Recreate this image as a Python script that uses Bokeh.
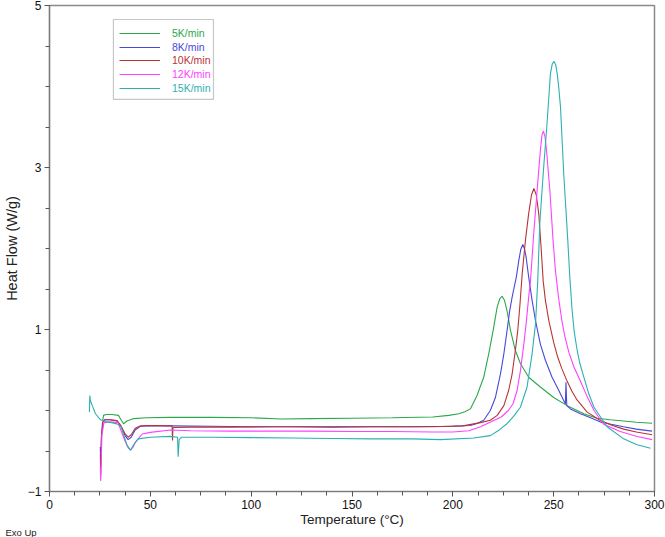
from bokeh.plotting import figure
from bokeh.models import Range1d, FixedTicker, Legend, LegendItem, Title, BoxAnnotation
from bokeh.embed import file_html
from bokeh.resources import INLINE

# ---------------- data ----------------
rates = ["5K/min", "8K/min", "10K/min", "12K/min", "15K/min"]
colors = ["#2ba84c", "#4848dc", "#b83434", "#ff40ff", "#2cb0b0"]

t_5k = [26.4, 26.8, 28, 31, 34.2, 35.6, 36.8, 38.4, 41.8, 48, 60, 80, 100, 115, 130,
        150, 170, 190, 198, 203, 206, 208.7, 212, 215.3, 217.8, 220, 222, 223.3, 224.4,
        225.6, 226.9, 228.6, 231, 233.5, 237.6, 243.4, 250, 256.7, 265, 271.5, 278,
        284.7, 291, 298.8]
hf_5k = [-0.12, -0.06, -0.05, -0.05, -0.06, -0.12, -0.165, -0.13, -0.10, -0.09, -0.085,
         -0.085, -0.09, -0.105, -0.10, -0.095, -0.09, -0.08, -0.06, -0.04, -0.015, 0.02,
         0.185, 0.41, 0.70, 0.99, 1.28, 1.38, 1.41, 1.36, 1.23, 0.99, 0.74, 0.58, 0.41,
         0.29, 0.16, 0.06, -0.04, -0.095, -0.115, -0.13, -0.145, -0.157]

t_8k = [25.2, 25.4, 25.7, 26.3, 27.2, 30, 33.5, 35.5, 37.5, 39, 40.5, 42.5, 45, 50, 60,
        80, 100, 120, 140, 160, 180, 200, 208.7, 212, 215.3, 218.6, 221.1, 223.6, 225.3,
        226.9, 228.2, 229.4, 231.5, 232.7, 233.7, 234.7, 235.6, 236.3, 237.6, 239.3, 241,
        243.4, 245.9, 249.2, 252.5, 255.8, 256.1, 256.3, 256.5, 258.3, 263.3, 267.4, 273,
        278.5, 284.6, 291, 298.8]
hf_8k = [-0.45, -0.68, -0.35, -0.15, -0.115, -0.115, -0.13, -0.2, -0.31, -0.36, -0.33,
         -0.24, -0.195, -0.19, -0.19, -0.195, -0.2, -0.2, -0.205, -0.2, -0.2, -0.195,
         -0.185, -0.16, -0.12, 0.0, 0.16, 0.45, 0.70, 0.99, 1.23, 1.40, 1.65, 1.85, 1.99,
         2.05, 1.99, 1.9, 1.65, 1.36, 1.11, 0.82, 0.62, 0.41, 0.25, 0.08, 0.35, 0.2, 0.06,
         0.02, -0.04, -0.08, -0.14, -0.17, -0.2, -0.23, -0.255]

t_10k = [25.2, 25.4, 25.8, 26.5, 27.5, 30, 33.5, 35.5, 37.5, 39, 40.5, 42.5, 45, 50,
         60.8, 61.0, 61.2, 61.5, 70, 90, 110, 130, 150, 170, 190, 205, 213.7, 218.6, 222,
         225.3, 227.7, 229.4, 231, 232.2, 233.2, 234.4, 236, 237.6, 239, 240.2, 241.4,
         242.6, 243.8, 244.8, 245.9, 247.6, 250, 252, 254, 256.7, 259, 261.6, 266.6, 273,
         278.5, 284.7, 291, 298.8]
hf_10k = [-0.55, -0.8, -0.3, -0.14, -0.115, -0.115, -0.125, -0.19, -0.29, -0.33, -0.3,
          -0.22, -0.19, -0.185, -0.19, -0.37, -0.22, -0.21, -0.205, -0.205, -0.2, -0.2,
          -0.2, -0.2, -0.2, -0.19, -0.15, -0.12, -0.06, 0.06, 0.25, 0.45, 0.74, 0.99,
          1.28, 1.69, 2.10, 2.43, 2.66, 2.74, 2.66, 2.43, 2.0, 1.6, 1.36, 1.11, 0.84, 0.66,
          0.52, 0.36, 0.24, 0.13, -0.02, -0.12, -0.18, -0.23, -0.265, -0.30]

t_12k = [25.2, 25.4, 26.0, 27.0, 30, 34, 35.5, 37.5, 39, 40.2, 41.5, 42.6, 46, 50, 60,
         70, 90, 110, 130, 150, 170, 190, 200, 208, 213.7, 219, 224, 227.5, 229.8, 231.9,
         233.5, 235.2, 236.5, 237.6, 238.5, 240.1, 241.8, 243.4, 244.2, 244.9, 245.7,
         246.5, 248.1, 249.7, 250.9, 252.5, 254, 255.5, 257.5, 260, 263.3, 267, 270,
         274.8, 283, 291.4, 298.8]
hf_12k = [-0.7, -0.87, -0.3, -0.15, -0.14, -0.15, -0.25, -0.38, -0.46, -0.49, -0.45,
          -0.39, -0.29, -0.27, -0.24, -0.25, -0.255, -0.255, -0.255, -0.26, -0.26, -0.265,
          -0.265, -0.25, -0.2, -0.14, -0.08, 0.0, 0.08, 0.25, 0.49, 0.82, 1.11, 1.40, 1.60,
          2.18, 2.72, 3.21, 3.4, 3.45, 3.38, 3.2, 2.72, 2.10, 1.72, 1.38, 1.12, 0.92, 0.72,
          0.54, 0.36, 0.15, 0.0, -0.17, -0.26, -0.32, -0.36]

t_15k = [19.8, 20.0, 20.3, 21.2, 22.8, 25.3, 27.8, 33.5, 35.5, 36.9, 38.5, 40.2, 41.8, 44,
         50, 60, 63.5, 63.8, 64.3, 65.5, 80, 100, 120, 140, 160, 180, 194, 210.4, 218.6,
         223, 227, 230.5, 233.5, 236.8, 239.3, 241, 242.1, 243.1, 244.8, 246.7, 248.4,
         249.3, 250.2, 251.0, 251.8, 252.6, 253.4, 255, 257, 258, 259.1, 260.2, 261.6, 263,
         265, 267.5, 270, 276.5, 284.7, 291, 298]
hf_15k = [-0.02, 0.185, 0.12, 0.06, -0.04, -0.115, -0.136, -0.165, -0.2, -0.31, -0.43,
          -0.49, -0.42, -0.35, -0.33, -0.32, -0.33, -0.57, -0.36, -0.33, -0.33, -0.335,
          -0.34, -0.345, -0.35, -0.35, -0.36, -0.34, -0.31, -0.24, -0.16, -0.06, 0.04,
          0.29, 0.70, 1.07, 1.60, 2.30, 2.92, 3.54, 4.16, 4.28, 4.31, 4.27, 4.15, 3.97,
          3.74, 2.92, 2.10, 1.65, 1.25, 0.97, 0.75, 0.58, 0.41, 0.2, 0.04, -0.2, -0.35,
          -0.42, -0.465]

x_ticks = [0, 50, 100, 150, 200, 250, 300]
x_minor = [i * 12.5 for i in range(25)]
y_ticks = [-1, 1, 3, 5]
y_minor = [-1 + i * 0.5 for i in range(13)]

series_t = [t_5k, t_8k, t_10k, t_12k, t_15k]
series_h = [hf_5k, hf_8k, hf_10k, hf_12k, hf_15k]

# ---------------- figure ----------------
W, H = 665, 537
MB_L, MB_R, MB_T, MB_B = 41, 11, 5, 46
frame_h = H - MB_T - MB_B

p = figure(width=W, height=H, output_backend="svg", toolbar_location=None,
           x_range=Range1d(0, 300), y_range=Range1d(-1, 5),
           min_border_left=MB_L, min_border_right=MB_R,
           min_border_top=MB_T, min_border_bottom=MB_B)
p.grid.visible = False
p.outline_line_color = "#8a8a8a"
p.outline_line_width = 1.5
p.background_fill_color = "white"
p.border_fill_color = "white"

font = "Liberation Sans"
for ax in (p.xaxis[0], p.yaxis[0]):
    ax.axis_line_color = "#7a7a7a"
    ax.axis_line_width = 1.2
    ax.major_tick_line_color = "#555555"
    ax.minor_tick_line_color = "#555555"
    ax.major_tick_out = 5
    ax.major_tick_in = 0
    ax.minor_tick_out = 4
    ax.minor_tick_in = 0
    ax.major_label_text_font = font
    ax.major_label_text_font_size = "12px"
    ax.major_label_text_color = "#111111"
    ax.axis_label_text_font = font
    ax.axis_label_text_font_style = "normal"
    ax.axis_label_text_color = "#222222"
    ax.major_label_standoff = 3

p.xaxis.ticker = FixedTicker(ticks=x_ticks, minor_ticks=x_minor)
p.yaxis.ticker = FixedTicker(ticks=y_ticks, minor_ticks=y_minor)
p.xaxis.major_label_standoff = 3
p.xaxis.axis_label = "Temperature (°C)"
p.xaxis.axis_label_text_font_size = "13.5px"
p.xaxis.axis_label_standoff = 0
p.yaxis.axis_label = "Heat Flow (W/g)"
p.yaxis.axis_label_text_font_size = "14.5px"
p.yaxis.axis_label_standoff = 5

renderers = []
for t, h, c in zip(series_t, series_h, colors):
    r = p.line(t, h, line_color=c, line_width=1.1)
    renderers.append(r)

# legend frame (data units)
p.add_layout(BoxAnnotation(left=31.7, right=81.3, top=4.827, bottom=3.84,
                           fill_color="white", fill_alpha=1.0,
                           line_color="#444444", line_width=1.2))

item_tops = [27.7, 41.5, 55.3, 69.1, 82.9]
for r, lab, c, yc in zip(renderers, rates, colors, item_tops):
    leg = Legend(items=[LegendItem(label=lab, renderers=[r])],
                 location=(70, frame_h - yc - 7),
                 glyph_width=41, glyph_height=14, label_height=14, label_standoff=12,
                 padding=0, margin=0, spacing=0,
                 border_line_color=None, background_fill_alpha=0,
                 label_text_color=c, label_text_font=font,
                 label_text_font_size="10.5px")
    p.add_layout(leg)

# "Exo Up" note at the lower left, as a title in the bottom panel
p.add_layout(Title(text="Exo Up", align="left", offset=-44, standoff=-16,
                   text_font=font, text_font_size="9.5px", text_font_style="normal",
                   text_color="#222222"), "below")

open("out.html", "w").write(file_html(p, INLINE))
